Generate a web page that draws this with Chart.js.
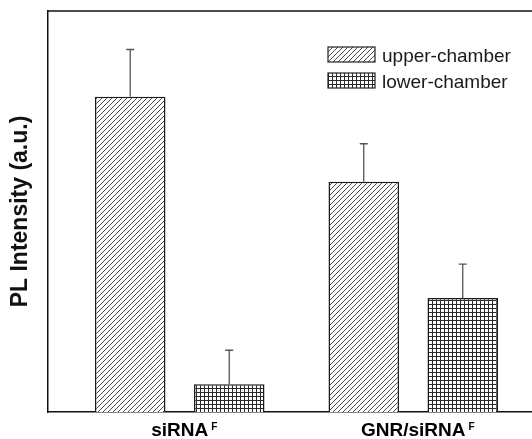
<!DOCTYPE html>
<html><head><meta charset="utf-8">
<script src="https://cdn.jsdelivr.net/npm/chart.js@4.4.0/dist/chart.umd.min.js"></script>
<style>html,body{margin:0;padding:0;background:#fff;overflow:hidden}</style>
</head><body>
<canvas id="c" width="532" height="439"></canvas>
<script>
// ---- data ----
const categories = ['siRNA', 'GNR/siRNA'];
const categorySup = 'F';
const seriesNames = ['upper-chamber', 'lower-chamber'];
const upperValues = [78.6, 57.4];
const lowerValues = [6.9, 28.4];
const upperErrors = [11.8, 9.5];
const lowerErrors = [8.5, 8.5];
const yTitle = 'PL Intensity (a.u.)';

Chart.defaults.font.family = "'Liberation Sans', Arial, Helvetica, sans-serif";

const canvas = document.getElementById('c');
const ctx = canvas.getContext('2d');

function hatchPattern() {
  const s = 5, c = document.createElement('canvas');
  c.width = c.height = s;
  const g = c.getContext('2d');
  g.fillStyle = '#fff'; g.fillRect(0, 0, s, s);
  g.strokeStyle = '#333'; g.lineWidth = 0.9;
  g.beginPath();
  g.moveTo(0, s); g.lineTo(s, 0);
  g.moveTo(-1, 1); g.lineTo(1, -1);
  g.moveTo(s - 1, s + 1); g.lineTo(s + 1, s - 1);
  g.stroke();
  return ctx.createPattern(c, 'repeat');
}
function gridPattern() {
  const s = 4, c = document.createElement('canvas');
  c.width = c.height = s;
  const g = c.getContext('2d');
  g.fillStyle = '#fff'; g.fillRect(0, 0, s, s);
  g.fillStyle = '#2a2a2a';
  g.fillRect(0, 0, s, 1);
  g.fillRect(0, 0, 1, s);
  return ctx.createPattern(c, 'repeat');
}
const fills = [hatchPattern(), gridPattern()];
const seriesValues = [upperValues, lowerValues];
const seriesErrors = [upperErrors, lowerErrors];

const errorBars = {
  id: 'errorBars',
  afterDatasetsDraw(chart) {
    const c = chart.ctx, y = chart.scales.y;
    c.save();
    c.strokeStyle = '#555'; c.lineWidth = 1.3;
    chart.data.datasets.forEach((ds, di) => {
      const meta = chart.getDatasetMeta(di);
      meta.data.forEach((el, i) => {
        const top = y.getPixelForValue(seriesValues[di][i] + seriesErrors[di][i]);
        c.beginPath();
        c.moveTo(el.x, el.y); c.lineTo(el.x, top);
        c.moveTo(el.x - 4, top); c.lineTo(el.x + 4, top);
        c.stroke();
      });
    });
    c.restore();
  }
};

const frameAndLabels = {
  id: 'frameAndLabels',
  afterDraw(chart) {
    const c = chart.ctx, a = chart.chartArea, x = chart.scales.x;
    c.save();
    // top frame line
    c.strokeStyle = '#111'; c.lineWidth = 1.5;
    c.beginPath(); c.moveTo(a.left, a.top); c.lineTo(a.right, a.top); c.stroke();
    // superscripts on category labels
    c.fillStyle = '#000';
    categories.forEach((lab, i) => {
      c.font = "bold 19px 'Liberation Sans', Arial, sans-serif";
      const w = c.measureText(lab).width;
      const px = x.getPixelForValue(i);
      c.font = "bold 10px 'Liberation Sans', Arial, sans-serif";
      c.textAlign = 'left'; c.textBaseline = 'alphabetic';
      c.fillText(categorySup, px + w / 2 + 3, a.bottom + 18);
    });
    // legend
    const bx = 328, bw = 47, bh = 15, by0 = 47, step = 26;
    chart.data.datasets.forEach((ds, di) => {
      const by = by0 + di * step;
      c.fillStyle = fills[di];
      c.fillRect(bx, by, bw, bh);
      c.strokeStyle = '#222'; c.lineWidth = 1.2;
      c.strokeRect(bx, by, bw, bh);
      c.fillStyle = '#1a1a1a';
      c.font = "19px 'Liberation Sans', Arial, sans-serif";
      c.textAlign = 'left'; c.textBaseline = 'alphabetic';
      c.fillText(ds.label, bx + 54, by + 15);
    });
    c.restore();
  }
};

new Chart(ctx, {
  type: 'bar',
  data: {
    datasets: seriesNames.map((name, di) => ({
      label: name,
      data: seriesValues[di].map((v, i) => ({ x: i, y: v })),
      backgroundColor: fills[di],
      borderColor: '#1a1a1a',
      borderWidth: 1.5,
      categoryPercentage: 0.848,
      barPercentage: 0.712
    }))
  },
  options: {
    responsive: false,
    animation: false,
    layout: { padding: { top: 11, right: 0, bottom: 0, left: 0 } },
    plugins: { legend: { display: false }, tooltip: { enabled: false } },
    scales: {
      x: {
        type: 'linear',
        offset: false,
        min: -0.5642,
        max: 1.5086,
        grid: { display: false, drawTicks: false, offset: false },
        border: { display: true, color: '#111', width: 1.5 },
        afterBuildTicks(s) { s.ticks = categories.map((_, i) => ({ value: i })); },
        afterFit(s) { s.height = 27; },
        ticks: {
          autoSkip: false, maxRotation: 0, padding: 7,
          color: '#000',
          font: { size: 19, weight: 'bold' },
          callback: (v) => categories[v] !== undefined ? categories[v] : ''
        }
      },
      y: {
        min: 0, max: 100,
        grid: { display: false, drawTicks: false },
        border: { display: true, color: '#111', width: 1.5 },
        ticks: { display: false },
        afterFit(s) { s.width = 48; },
        title: {
          display: true, text: yTitle, color: '#111',
          font: { size: 23, weight: 'bold' },
          padding: { top: 7, bottom: 0 }
        }
      }
    }
  },
  plugins: [errorBars, frameAndLabels]
});
</script>
</body></html>
